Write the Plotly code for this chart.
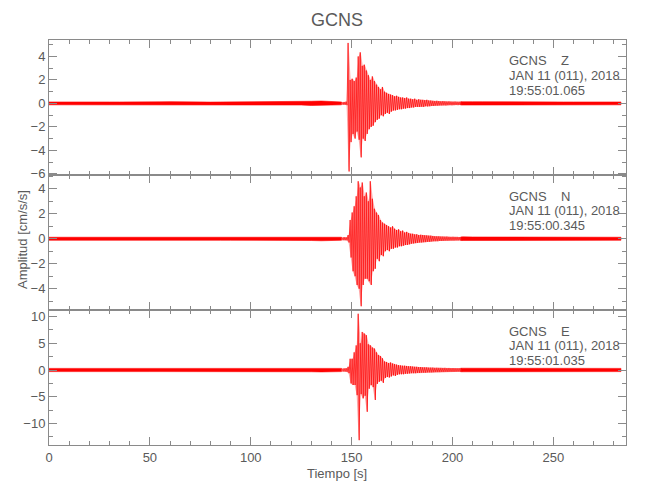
import plotly.graph_objects as go

# ---------------- data ----------------
# Quiet background: half-amplitude of the noise band in 5-s bins (cm/s/s)
noise_pre_start_s = [0, 5, 10, 15, 20, 25, 30, 35, 40, 45, 50, 55, 60, 65, 70,
                     75, 80, 85, 90, 95, 100, 105, 110, 115, 120, 125, 130, 135, 140]
noise_post_start_s = [205, 210, 215, 220, 225, 230, 235, 240, 245, 250, 255, 260,
                      265, 270, 275, 280]

Z_noise_pre = [0.12, 0.11, 0.12, 0.13, 0.12, 0.11, 0.12, 0.12, 0.11, 0.12, 0.12, 0.13,
               0.15, 0.13, 0.12, 0.12, 0.11, 0.12, 0.12, 0.12, 0.13, 0.12, 0.12, 0.13,
               0.14, 0.14, 0.18, 0.2, 0.16]
Z_noise_post = [0.15, 0.14, 0.14, 0.13, 0.13, 0.12, 0.13, 0.12, 0.12, 0.13, 0.12, 0.12,
                0.12, 0.13, 0.12, 0.12]
N_noise_pre = [0.12, 0.12, 0.11, 0.12, 0.12, 0.12, 0.11, 0.12, 0.12, 0.13, 0.12, 0.12,
               0.12, 0.12, 0.11, 0.12, 0.12, 0.12, 0.12, 0.13, 0.12, 0.12, 0.12, 0.13,
               0.13, 0.13, 0.14, 0.16, 0.15]
N_noise_post = [0.15, 0.14, 0.14, 0.13, 0.13, 0.13, 0.12, 0.12, 0.13, 0.12, 0.12, 0.12,
                0.12, 0.12, 0.12, 0.12]
E_noise_pre = [0.3, 0.3, 0.28, 0.3, 0.3, 0.29, 0.3, 0.3, 0.3, 0.31, 0.3, 0.3,
               0.3, 0.3, 0.29, 0.3, 0.3, 0.3, 0.3, 0.31, 0.3, 0.3, 0.3, 0.32,
               0.32, 0.32, 0.33, 0.36, 0.4]
E_noise_post = [0.33, 0.33, 0.32, 0.32, 0.31, 0.3, 0.31, 0.3, 0.3, 0.31, 0.3, 0.3,
                0.3, 0.3, 0.3, 0.3]

# Event window: max / min of the trace in 1-s bins starting at 145 s
event_start_s = list(range(145, 205))

Z_up = [0.12, 0.12, 0.15, 5.15, 2.0, 2.1, 1.9, 2.2, 4.0, 4.35, 3.2, 3.3, 2.8, 2.4, 2.0,
        2.3, 1.9, 1.6, 1.4, 1.2, 1.4, 1.0, 0.9, 0.8, 0.75, 0.7, 0.6, 0.65, 0.55, 0.5,
        0.5, 0.45, 0.5, 0.4, 0.4, 0.35, 0.4, 0.3, 0.35, 0.3, 0.3, 0.28, 0.3, 0.25, 0.25,
        0.22, 0.2, 0.22, 0.2, 0.18, 0.2, 0.18, 0.17, 0.18, 0.16, 0.15, 0.16, 0.15, 0.15, 0.14]
Z_lo = [-0.12, -0.12, -0.15, -5.8, -3.3, -2.6, -3.0, -2.4, -3.1, -4.6, -3.0, -3.2, -2.6,
        -2.2, -2.0, -1.9, -1.6, -1.4, -1.3, -1.0, -1.1, -0.9, -0.8, -0.9, -0.7, -0.6,
        -0.6, -0.55, -0.5, -0.5, -0.45, -0.45, -0.4, -0.4, -0.35, -0.35, -0.3, -0.3,
        -0.3, -0.28, -0.3, -0.25, -0.27, -0.25, -0.22, -0.22, -0.2, -0.2, -0.18, -0.18,
        -0.17, -0.18, -0.16, -0.15, -0.16, -0.15, -0.14, -0.15, -0.14, -0.14]

N_up = [0.12, 0.13, 0.12, 0.3, 1.5, 2.1, 2.6, 3.4, 4.6, 4.1, 4.5, 3.4, 3.7, 3.0, 4.6,
        3.2, 2.4, 2.1, 1.9, 1.5, 1.3, 1.2, 1.1, 1.0, 0.9, 1.0, 0.8, 0.7, 0.75, 0.6,
        0.65, 0.5, 0.55, 0.45, 0.4, 0.4, 0.35, 0.35, 0.3, 0.32, 0.3, 0.28, 0.27, 0.25,
        0.25, 0.22, 0.2, 0.2, 0.2, 0.18, 0.18, 0.17, 0.18, 0.16, 0.15, 0.16, 0.15, 0.15,
        0.14, 0.14]
N_lo = [-0.12, -0.12, -0.13, -0.3, -1.5, -2.6, -3.0, -3.7, -4.0, -5.4, -3.7, -3.2, -3.2,
        -3.4, -3.7, -2.6, -2.4, -1.6, -1.8, -1.3, -1.4, -1.0, -0.9, -1.0, -0.8, -0.8,
        -0.7, -0.7, -0.6, -0.6, -0.55, -0.5, -0.5, -0.45, -0.4, -0.38, -0.35, -0.33,
        -0.3, -0.3, -0.28, -0.27, -0.25, -0.25, -0.22, -0.2, -0.2, -0.2, -0.18, -0.18,
        -0.17, -0.16, -0.16, -0.15, -0.15, -0.15, -0.14, -0.14, -0.13, -0.13]

E_up = [0.3, 0.3, 0.35, 0.6, 2.1, 2.1, 3.3, 4.6, 10.5, 5.0, 7.1, 6.8, 6.5, 4.8, 4.6,
        4.2, 4.0, 3.3, 2.8, 2.6, 2.2, 1.6, 1.5, 1.3, 1.4, 1.2, 1.1, 1.0, 0.9, 0.85,
        0.8, 0.8, 0.75, 0.7, 0.7, 0.65, 0.6, 0.6, 0.55, 0.55, 0.5, 0.5, 0.5, 0.45, 0.45,
        0.45, 0.4, 0.42, 0.4, 0.4, 0.38, 0.4, 0.36, 0.38, 0.35, 0.36, 0.35, 0.34, 0.35, 0.33]
E_lo = [-0.3, -0.3, -0.35, -0.6, -2.5, -2.8, -2.8, -4.7, -13.1, -4.5, -5.3, -4.8, -7.8,
        -3.5, -2.8, -3.2, -5.6, -2.6, -2.2, -2.0, -2.4, -1.5, -1.3, -1.4, -1.2, -1.0,
        -1.1, -0.9, -0.8, -0.8, -0.8, -0.7, -0.7, -0.65, -0.6, -0.6, -0.6, -0.55, -0.55,
        -0.5, -0.5, -0.5, -0.45, -0.45, -0.45, -0.42, -0.4, -0.4, -0.4, -0.38, -0.38,
        -0.36, -0.37, -0.35, -0.35, -0.35, -0.34, -0.33, -0.34, -0.33]

components = ["Z", "N", "E"]
start_times = ["19:55:01.065", "19:55:00.345", "19:55:01.035"]
station = "GCNS"
date_label = "JAN 11 (011), 2018"
y_ranges = [[-6.1, 5.4], [-5.7, 5.1], [-14.0, 11.2]]
y_dticks = [2, 2, 5]
y_minor = [1, 1, 2.5]
x_range = [0, 286]

# ---------------- figure ----------------
FONT = "Liberation Sans, Arial, sans-serif"
AXC = "#8a8a8a"
TXT = "#5a5a5a"
RED = "#ff0000"

# page body has an 8 px margin: place the plot area in figure coordinates
OFF = 8
PL, PR, PT, PB = 49 - OFF, 626 - OFF, 40 - OFF, 445 - OFF  # plot box in figure px
W, H = 650, 500


def minmax_path(starts, width, up, lo):
    xs, ys = [], []
    for t, u, l in zip(starts, up, lo):
        xs += [t + 0.25 * width, t + 0.75 * width]
        ys += [u, l]
    return xs, ys


def band(starts, width, up, lo):
    cx = [t + 0.5 * width for t in starts]
    return cx + cx[::-1], list(up) + list(lo)[::-1]


traces = {
    "Z": (Z_noise_pre, Z_up, Z_lo, Z_noise_post),
    "N": (N_noise_pre, N_up, N_lo, N_noise_post),
    "E": (E_noise_pre, E_up, E_lo, E_noise_post),
}

fig = go.Figure()
domains = [[2 / 3, 1.0], [1 / 3, 2 / 3], [0.0, 1 / 3]]

for i, comp in enumerate(components):
    pre, up, lo, post = traces[comp]
    xa = "x" if i == 0 else f"x{i+1}"
    ya = "y" if i == 0 else f"y{i+1}"
    # quiet background as a thin filled band
    for starts, amp in ((noise_pre_start_s + [event_start_s[0]], pre + [up[0]]),
                        ([event_start_s[-1]] + noise_post_start_s + [x_range[1] - 2.5],
                         [up[-1]] + post + [post[-1]])):
        bx, by = band(starts, 0, amp, [-v for v in amp])
        fig.add_trace(go.Scatter(x=bx, y=by, mode="lines", fill="toself",
                                 fillcolor=RED, line=dict(color=RED, width=0.6),
                                 xaxis=xa, yaxis=ya, showlegend=False, hoverinfo="skip"))
    # event: envelope shading + min/max trace
    ex, ey = band(event_start_s, 1, up, lo)
    fig.add_trace(go.Scatter(x=ex, y=ey, mode="lines", fill="toself",
                             fillcolor="rgba(255,60,60,0.45)", line=dict(width=0),
                             xaxis=xa, yaxis=ya, showlegend=False, hoverinfo="skip"))
    xs2, ys2 = minmax_path(event_start_s, 1, up, lo)
    fig.add_trace(go.Scatter(x=xs2, y=ys2, mode="lines", line=dict(color=RED, width=0.7),
                             xaxis=xa, yaxis=ya, showlegend=False, hoverinfo="skip"))

common = dict(showline=True, linecolor=AXC, linewidth=1, mirror="allticks",
              ticks="inside", ticklen=8, tickcolor=AXC, tickwidth=1,
              showgrid=False, zeroline=False,
              tickfont=dict(family=FONT, size=13, color=TXT))

layout = dict(
    width=W, height=H,
    margin=dict(l=PL, r=W - PR, t=PT, b=H - PB),
    paper_bgcolor="white", plot_bgcolor="white",
    showlegend=False,
)
for i in range(3):
    xk = "xaxis" if i == 0 else f"xaxis{i+1}"
    yk = "yaxis" if i == 0 else f"yaxis{i+1}"
    ya = "y" if i == 0 else f"y{i+1}"
    xa = "x" if i == 0 else f"x{i+1}"
    layout[xk] = dict(common, domain=[0, 1], anchor=ya, range=x_range, dtick=50, tick0=0,
                      showticklabels=(i == 2),
                      minor=dict(ticks="inside", ticklen=4, tickcolor=AXC, dtick=10,
                                 showgrid=False))
    layout[yk] = dict(common, domain=domains[i], anchor=xa, range=y_ranges[i],
                      dtick=y_dticks[i], tick0=0,
                      minor=dict(ticks="inside", ticklen=4, tickcolor=AXC,
                                 dtick=y_minor[i], showgrid=False))
fig.update_layout(**layout)


def xp(px):  # screen px -> paper x
    return (px - OFF - PL) / (PR - PL)


def yp(px):  # screen px -> paper y
    return (PB - (px - OFF)) / (PB - PT)


annos = []
panel_tops = [40, 175, 310]
for i, comp in enumerate(components):
    top = panel_tops[i]
    lines = [station + "\u00a0\u00a0\u00a0\u00a0" + comp, date_label, start_times[i]]
    for j, txt in enumerate(lines):
        annos.append(dict(text=txt, xref="paper", yref="paper",
                          x=xp(507), y=yp(top + 21 + 14.5 * j),
                          xanchor="left", yanchor="middle", showarrow=False,
                          font=dict(family=FONT, size=13, color=TXT)))

annos.append(dict(text="Amplitud [cm/s/s]", xref="paper", yref="paper",
                  x=xp(22), y=yp(240), textangle=-90,
                  xanchor="center", yanchor="middle", showarrow=False,
                  font=dict(family=FONT, size=13, color=TXT)))
annos.append(dict(text="Tiempo [s]", xref="paper", yref="paper",
                  x=xp(337), y=yp(474), xanchor="center", yanchor="middle",
                  showarrow=False, font=dict(family=FONT, size=13, color=TXT)))
annos.append(dict(text=station, xref="paper", yref="paper",
                  x=xp(337), y=yp(20), xanchor="center", yanchor="middle",
                  showarrow=False, font=dict(family=FONT, size=18, color=TXT)))
fig.update_layout(annotations=annos)

fig.write_html("out.html")
